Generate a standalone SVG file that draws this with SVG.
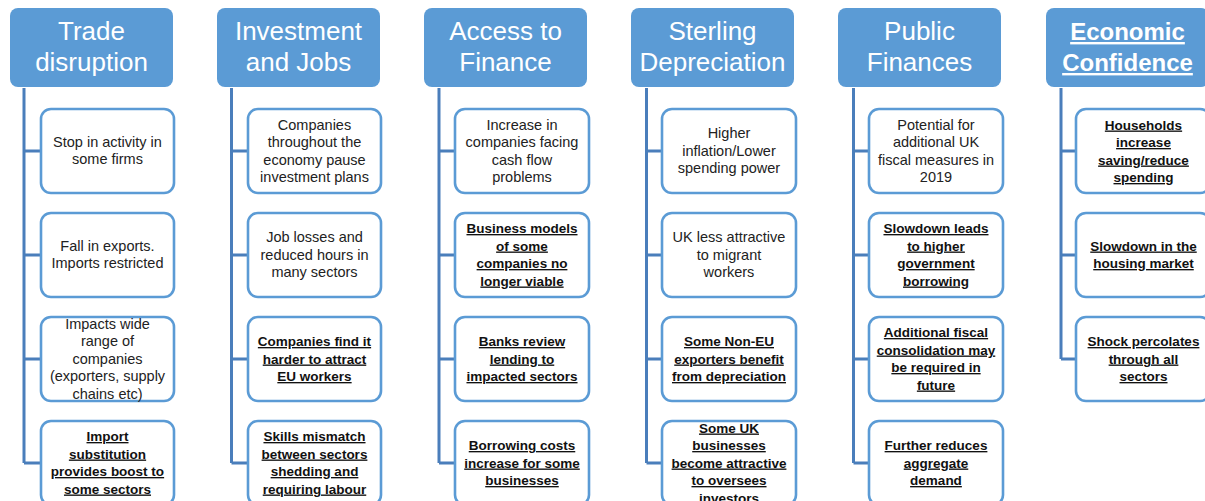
<svg xmlns="http://www.w3.org/2000/svg" width="1205" height="501" viewBox="0 0 1205 501">
<style>
.hdr{fill:#5b9bd5}
.box{fill:#fff;stroke:#5b9bd5;stroke-width:2.6}
.con{fill:none;stroke:#4a7ebb;stroke-width:3}
.ht{font-family:"Liberation Sans",Arial,sans-serif;font-size:26px;fill:#fff;text-anchor:middle}
.hb{font-weight:bold;font-size:24px;text-decoration:underline}
.t{font-family:"Liberation Sans",Arial,sans-serif;font-size:14.5px;fill:#222;text-anchor:middle}
.b{font-weight:bold;font-size:13.5px;text-decoration:underline;fill:#111}
</style>
<rect width="1205" height="501" fill="#fff"/>
<g id="connectors">
<path class="con" d="M24 88V463M24 151H41M24 255H41M24 359H41M24 463H41"/>
<path class="con" d="M231.5 88V463M231.5 151H248M231.5 255H248M231.5 359H248M231.5 463H248"/>
<path class="con" d="M439 88V463M439 151H455M439 255H455M439 359H455M439 463H455"/>
<path class="con" d="M646.5 88V463M646.5 151H662M646.5 255H662M646.5 359H662M646.5 463H662"/>
<path class="con" d="M853.5 88V463M853.5 151H869M853.5 255H869M853.5 359H869M853.5 463H869"/>
<path class="con" d="M1061 88V359M1061 151H1076M1061 255H1076M1061 359H1076"/>
</g>
<g id="h1"><rect class="hdr" x="10" y="8" width="163" height="79" rx="8"/><text class="ht" x="91.5" y="40">Trade</text><text class="ht" x="91.5" y="71">disruption</text></g>
<g id="h2"><rect class="hdr" x="217" y="8" width="163" height="79" rx="8"/><text class="ht" x="298.5" y="40">Investment</text><text class="ht" x="298.5" y="71">and Jobs</text></g>
<g id="h3"><rect class="hdr" x="424" y="8" width="163" height="79" rx="8"/><text class="ht" x="505.5" y="40">Access to</text><text class="ht" x="505.5" y="71">Finance</text></g>
<g id="h4"><rect class="hdr" x="631" y="8" width="163" height="79" rx="8"/><text class="ht" x="712.5" y="40">Sterling</text><text class="ht" x="712.5" y="71">Depreciation</text></g>
<g id="h5"><rect class="hdr" x="838" y="8" width="163" height="79" rx="8"/><text class="ht" x="919.5" y="40">Public</text><text class="ht" x="919.5" y="71">Finances</text></g>
<g id="h6"><rect class="hdr" x="1046" y="8" width="163" height="79" rx="8"/><text class="ht hb" x="1127.5" y="40">Economic</text><text class="ht hb" x="1127.5" y="71">Confidence</text></g>

<g id="c1a"><rect class="box" x="41" y="109" width="133" height="84" rx="10"/><text class="t" x="107.5" y="146.5">Stop in activity in</text><text class="t" x="107.5" y="164">some firms</text></g>
<g id="c1b"><rect class="box" x="41" y="213" width="133" height="84" rx="10"/><text class="t" x="107.5" y="250.5">Fall in exports.</text><text class="t" x="107.5" y="268">Imports restricted</text></g>
<g id="c1c"><rect class="box" x="41" y="317" width="133" height="84" rx="10"/><text class="t" x="107.5" y="328.5">Impacts wide</text><text class="t" x="107.5" y="346">range of</text><text class="t" x="107.5" y="363.5">companies</text><text class="t" x="107.5" y="381">(exporters, supply</text><text class="t" x="107.5" y="398.5">chains etc)</text></g>
<g id="c1d"><rect class="box" x="41" y="421" width="133" height="84" rx="10"/><text class="t b" x="107.5" y="441">Import</text><text class="t b" x="107.5" y="458.5">substitution</text><text class="t b" x="107.5" y="476">provides boost to</text><text class="t b" x="107.5" y="493.5">some sectors</text></g>

<g id="c2a"><rect class="box" x="248" y="109" width="133" height="84" rx="10"/><text class="t" x="314.5" y="129.5">Companies</text><text class="t" x="314.5" y="147">throughout the</text><text class="t" x="314.5" y="164.5">economy pause</text><text class="t" x="314.5" y="182">investment plans</text></g>
<g id="c2b"><rect class="box" x="248" y="213" width="133" height="84" rx="10"/><text class="t" x="314.5" y="242">Job losses and</text><text class="t" x="314.5" y="259.5">reduced hours in</text><text class="t" x="314.5" y="277">many sectors</text></g>
<g id="c2c"><rect class="box" x="248" y="317" width="133" height="84" rx="10"/><text class="t b" x="314.5" y="346">Companies find it</text><text class="t b" x="314.5" y="363.5">harder to attract</text><text class="t b" x="314.5" y="381">EU workers</text></g>
<g id="c2d"><rect class="box" x="248" y="421" width="133" height="84" rx="10"/><text class="t b" x="314.5" y="441">Skills mismatch</text><text class="t b" x="314.5" y="458.5">between sectors</text><text class="t b" x="314.5" y="476">shedding and</text><text class="t b" x="314.5" y="493.5">requiring labour</text></g>

<g id="c3a"><rect class="box" x="455" y="109" width="134" height="84" rx="10"/><text class="t" x="522" y="129.5">Increase in</text><text class="t" x="522" y="147">companies facing</text><text class="t" x="522" y="164.5">cash flow</text><text class="t" x="522" y="182">problems</text></g>
<g id="c3b"><rect class="box" x="455" y="213" width="134" height="84" rx="10"/><text class="t b" x="522" y="233">Business models</text><text class="t b" x="522" y="250.5">of some</text><text class="t b" x="522" y="268">companies no</text><text class="t b" x="522" y="285.5">longer viable</text></g>
<g id="c3c"><rect class="box" x="455" y="317" width="134" height="84" rx="10"/><text class="t b" x="522" y="346">Banks review</text><text class="t b" x="522" y="363.5">lending to</text><text class="t b" x="522" y="381">impacted sectors</text></g>
<g id="c3d"><rect class="box" x="455" y="421" width="134" height="84" rx="10"/><text class="t b" x="522" y="450">Borrowing costs</text><text class="t b" x="522" y="467.5">increase for some</text><text class="t b" x="522" y="485">businesses</text></g>

<g id="c4a"><rect class="box" x="662" y="109" width="134" height="84" rx="10"/><text class="t" x="729" y="138">Higher</text><text class="t" x="729" y="155.5">inflation/Lower</text><text class="t" x="729" y="173">spending power</text></g>
<g id="c4b"><rect class="box" x="662" y="213" width="134" height="84" rx="10"/><text class="t" x="729" y="242">UK less attractive</text><text class="t" x="729" y="259.5">to migrant</text><text class="t" x="729" y="277">workers</text></g>
<g id="c4c"><rect class="box" x="662" y="317" width="134" height="84" rx="10"/><text class="t b" x="729" y="346">Some Non-EU</text><text class="t b" x="729" y="363.5">exporters benefit</text><text class="t b" x="729" y="381">from depreciation</text></g>
<g id="c4d"><rect class="box" x="662" y="421" width="134" height="84" rx="10"/><text class="t b" x="729" y="432.5">Some UK</text><text class="t b" x="729" y="450">businesses</text><text class="t b" x="729" y="467.5">become attractive</text><text class="t b" x="729" y="485">to oversees</text><text class="t b" x="729" y="502.5">investors</text></g>

<g id="c5a"><rect class="box" x="869" y="109" width="134" height="84" rx="10"/><text class="t" x="936" y="129.5">Potential for</text><text class="t" x="936" y="147">additional UK</text><text class="t" x="936" y="164.5">fiscal measures in</text><text class="t" x="936" y="182">2019</text></g>
<g id="c5b"><rect class="box" x="869" y="213" width="134" height="84" rx="10"/><text class="t b" x="936" y="233">Slowdown leads</text><text class="t b" x="936" y="250.5">to higher</text><text class="t b" x="936" y="268">government</text><text class="t b" x="936" y="285.5">borrowing</text></g>
<g id="c5c"><rect class="box" x="869" y="317" width="134" height="84" rx="10"/><text class="t b" x="936" y="337">Additional fiscal</text><text class="t b" x="936" y="354.5">consolidation may</text><text class="t b" x="936" y="372">be required in</text><text class="t b" x="936" y="389.5">future</text></g>
<g id="c5d"><rect class="box" x="869" y="421" width="134" height="84" rx="10"/><text class="t b" x="936" y="450">Further reduces</text><text class="t b" x="936" y="467.5">aggregate</text><text class="t b" x="936" y="485">demand</text></g>

<g id="c6a"><rect class="box" x="1076" y="109" width="134" height="84" rx="10"/><text class="t b" x="1143.5" y="129.5">Households</text><text class="t b" x="1143.5" y="147">increase</text><text class="t b" x="1143.5" y="164.5">saving/reduce</text><text class="t b" x="1143.5" y="182">spending</text></g>
<g id="c6b"><rect class="box" x="1076" y="213" width="134" height="84" rx="10"/><text class="t b" x="1143.5" y="250.5">Slowdown in the</text><text class="t b" x="1143.5" y="268">housing market</text></g>
<g id="c6c"><rect class="box" x="1076" y="317" width="134" height="84" rx="10"/><text class="t b" x="1143.5" y="346">Shock percolates</text><text class="t b" x="1143.5" y="363.5">through all</text><text class="t b" x="1143.5" y="381">sectors</text></g>
</svg>
